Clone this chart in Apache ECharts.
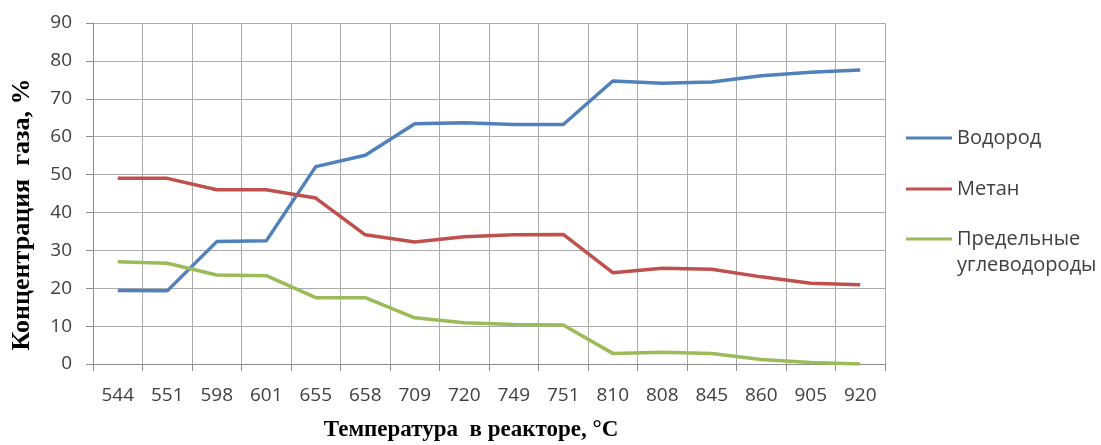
<!DOCTYPE html>
<html>
<head>
<meta charset="utf-8">
<script src="https://cdn.jsdelivr.net/npm/echarts@6/dist/echarts.min.js"></script>
<style>html,body{margin:0;padding:0;background:#fff}#c{width:1101px;height:445px}</style>
</head>
<body>
<div id="c"></div>
<script>
const categories = ['544','551','598','601','655','658','709','720','749','751','810','808','845','860','905','920'];
const hydrogen = [19.4, 19.3, 32.3, 32.5, 52.1, 55.1, 63.4, 63.7, 63.2, 63.2, 74.7, 74.1, 74.4, 76.1, 77.0, 77.6];
const methane  = [49.0, 49.0, 46.0, 46.0, 43.8, 34.1, 32.2, 33.6, 34.1, 34.2, 24.1, 25.3, 25.0, 23.0, 21.3, 20.9];
const alkanes  = [27.0, 26.6, 23.5, 23.3, 17.5, 17.5, 12.2, 10.9, 10.4, 10.3, 2.8, 3.1, 2.8, 1.2, 0.4, 0.0];
const seriesNames = ['Водород', 'Метан', 'Предельные углеводороды'];
const yTicks = {min: 0, max: 90, interval: 10};

const chart = echarts.init(document.getElementById('c'), null, {renderer: 'canvas'});
const tickFont = {fontFamily: 'Open Sans', fontSize: 19, color: '#404040'};
const gridColor = '#ababab';
const legendText = {fontFamily: 'Open Sans', fontSize: 20, color: '#404040', lineHeight: 26};
const legendBase = {
  orient: 'vertical',
  left: 906,
  padding: 0,
  icon: 'rect',
  itemWidth: 46,
  itemHeight: 3,
  itemGap: 25,
  textStyle: legendText
};
chart.setOption({
  animation: false,
  backgroundColor: '#ffffff',
  color: ['#4f81bd', '#c0504d', '#9bbb59'],
  grid: {left: 93, right: 216, top: 23, bottom: 81, containLabel: false, outerBoundsMode: 'none'},
  legend: [
    Object.assign({}, legendBase, {top: 125, data: [seriesNames[0], seriesNames[1]]}),
    Object.assign({}, legendBase, {
      top: 200,
      data: [seriesNames[2]],
      formatter: function () { return '\u00a0\nПредельные\nуглеводороды'; }
    })
  ],
  xAxis: {
    type: 'category',
    data: categories,
    boundaryGap: true,
    name: 'Температура  в реакторе, °С',
    nameLocation: 'middle',
    nameGap: 55,
    nameTextStyle: {fontFamily: 'Liberation Serif', fontWeight: 'bold', fontSize: 23, color: '#000', padding: [0, 36, 0, 0]},
    axisLine: {lineStyle: {color: '#8c8c8c', width: 1}},
    axisTick: {show: true, interval: 0, length: 7, lineStyle: {color: '#8c8c8c'}},
    axisLabel: Object.assign({interval: 0, margin: 22}, tickFont),
    splitLine: {show: true, interval: 0, lineStyle: {color: gridColor, width: 1}}
  },
  yAxis: {
    type: 'value',
    min: yTicks.min,
    max: yTicks.max,
    interval: yTicks.interval,
    name: 'Концентрация  газа, %',
    nameLocation: 'middle',
    nameGap: 58,
    nameTextStyle: {fontFamily: 'Liberation Serif', fontWeight: 'bold', fontSize: 26, color: '#000', padding: [0, 42, 0, 0]},
    axisLine: {show: true, lineStyle: {color: '#8c8c8c', width: 1}},
    axisTick: {show: true, length: 7, lineStyle: {color: '#8c8c8c'}},
    axisLabel: Object.assign({margin: 21}, tickFont),
    splitLine: {show: true, lineStyle: {color: gridColor, width: 1}}
  },
  series: [
    {name: seriesNames[0], type: 'line', data: hydrogen, symbol: 'none', lineStyle: {width: 3.5}},
    {name: seriesNames[1], type: 'line', data: methane, symbol: 'none', lineStyle: {width: 3.5}},
    {name: seriesNames[2], type: 'line', data: alkanes, symbol: 'none', lineStyle: {width: 3.5}}
  ]
});
</script>
</body>
</html>
